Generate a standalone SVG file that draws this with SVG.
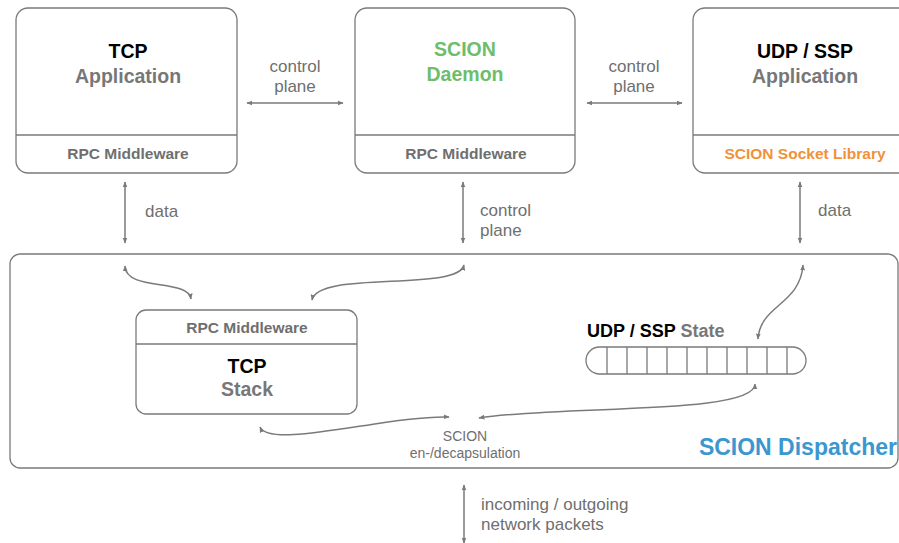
<svg xmlns="http://www.w3.org/2000/svg" width="899" height="543" viewBox="0 0 899 543">
<style>
.box{fill:#fff;stroke:#7a7a7a;stroke-width:1.3}
.ln{fill:none;stroke:#7a7a7a;stroke-width:1.3}
.t{font-family:"Liberation Sans",Arial,sans-serif;font-weight:bold;text-anchor:middle}
.big{font-size:19.5px}
.mid{font-size:15.5px;fill:#6f6f6f}
.blk{fill:#000}
.gry{fill:#777}
.lbl{font-family:"Liberation Sans",Arial,sans-serif;font-size:17px;fill:#6f6f6f}
.sm{font-family:"Liberation Sans",Arial,sans-serif;font-size:14px;fill:#6f6f6f;text-anchor:middle}
.arr{fill:none;stroke:#7a7a7a;stroke-width:1.5;marker-start:url(#ah);marker-end:url(#ah)}
</style>
<defs>
<marker id="ah" viewBox="0 0 10 10" refX="9" refY="5" markerWidth="6" markerHeight="6" orient="auto-start-reverse" markerUnits="userSpaceOnUse">
<path d="M0,1 L10,5 L0,9 z" fill="#7a7a7a"/>
</marker>
</defs>
<g id="tcp-app">
<rect class="box" x="16" y="8" width="221" height="165" rx="12"/>
<line class="ln" x1="16" y1="135" x2="237" y2="135"/>
<text class="t big blk" x="128" y="58">TCP</text>
<text class="t big gry" x="128" y="83">Application</text>
<text class="t mid" x="128" y="159">RPC Middleware</text>
</g>
<g id="scion-daemon">
<rect class="box" x="355" y="8" width="220" height="165" rx="12"/>
<line class="ln" x1="355" y1="135" x2="575" y2="135"/>
<text class="t big" x="465" y="56" fill="#6dbd6a">SCION</text>
<text class="t big" x="465" y="81" fill="#6dbd6a">Daemon</text>
<text class="t mid" x="466" y="159">RPC Middleware</text>
</g>
<g id="udp-app">
<rect class="box" x="693" y="8" width="222" height="165" rx="12"/>
<line class="ln" x1="693" y1="135" x2="915" y2="135"/>
<text class="t big blk" x="805" y="58">UDP / SSP</text>
<text class="t big gry" x="805" y="83">Application</text>
<text class="t" x="805" y="159" font-size="15.5" fill="#f0923a">SCION Socket Library</text>
</g>
<g id="dispatcher">
<rect class="box" x="10" y="254" width="888" height="214" rx="10"/>
<text class="t" x="897" y="455" font-size="23" fill="#3b97cf" style="text-anchor:end">SCION Dispatcher</text>
</g>
<g id="tcp-stack">
<rect class="box" x="136" y="310" width="221" height="104" rx="10"/>
<line class="ln" x1="136" y1="344" x2="357" y2="344"/>
<text class="t mid" x="247" y="333">RPC Middleware</text>
<text class="t big blk" x="247" y="373">TCP</text>
<text class="t big gry" x="247" y="396">Stack</text>
</g>
<g id="udp-state">
<text x="587" y="337" font-family="Liberation Sans,Arial,sans-serif" font-weight="bold" font-size="18"><tspan fill="#000">UDP / SSP </tspan><tspan fill="#777">State</tspan></text>
<rect class="box" x="586" y="347" width="220" height="27" rx="13.5"/>
<path class="ln" d="M607,347V374M627,347V374M647,347V374M667,347V374M687,347V374M707,347V374M727,347V374M747,347V374M767,347V374M787,347V374"/>
</g>
<g id="encap">
<text class="sm" x="465" y="441">SCION</text>
<text class="sm" x="465" y="458">en-/decapsulation</text>
</g>
<g id="connectors">
<line class="arr" x1="247" y1="103" x2="343" y2="103"/>
<line class="arr" x1="587" y1="103" x2="682" y2="103"/>
<line class="arr" x1="125" y1="182" x2="125" y2="243"/>
<line class="arr" x1="463" y1="182" x2="463" y2="243"/>
<line class="arr" x1="800" y1="182" x2="800" y2="243"/>
<line class="arr" x1="464" y1="485" x2="464" y2="543"/>
<path class="arr" d="M125,266 C126,292 188,278 191,299"/>
<path class="arr" d="M464,265 C458,292 318,270 312,300"/>
<path class="arr" d="M803,265 C800,305 760,305 758,339"/>
<path class="arr" d="M260,427 C270,450 390,415 449,417"/>
<path class="arr" d="M755,384 C755,415 560,405 479,418"/>
<text class="lbl" x="295" y="72" text-anchor="middle">control</text>
<text class="lbl" x="295" y="92" text-anchor="middle">plane</text>
<text class="lbl" x="634" y="72" text-anchor="middle">control</text>
<text class="lbl" x="634" y="92" text-anchor="middle">plane</text>
<text class="lbl" x="145" y="217">data</text>
<text class="lbl" x="480" y="216">control</text>
<text class="lbl" x="480" y="236">plane</text>
<text class="lbl" x="818" y="216">data</text>
<text class="lbl" x="481" y="510">incoming / outgoing</text>
<text class="lbl" x="481" y="530">network packets</text>
</g>
</svg>
